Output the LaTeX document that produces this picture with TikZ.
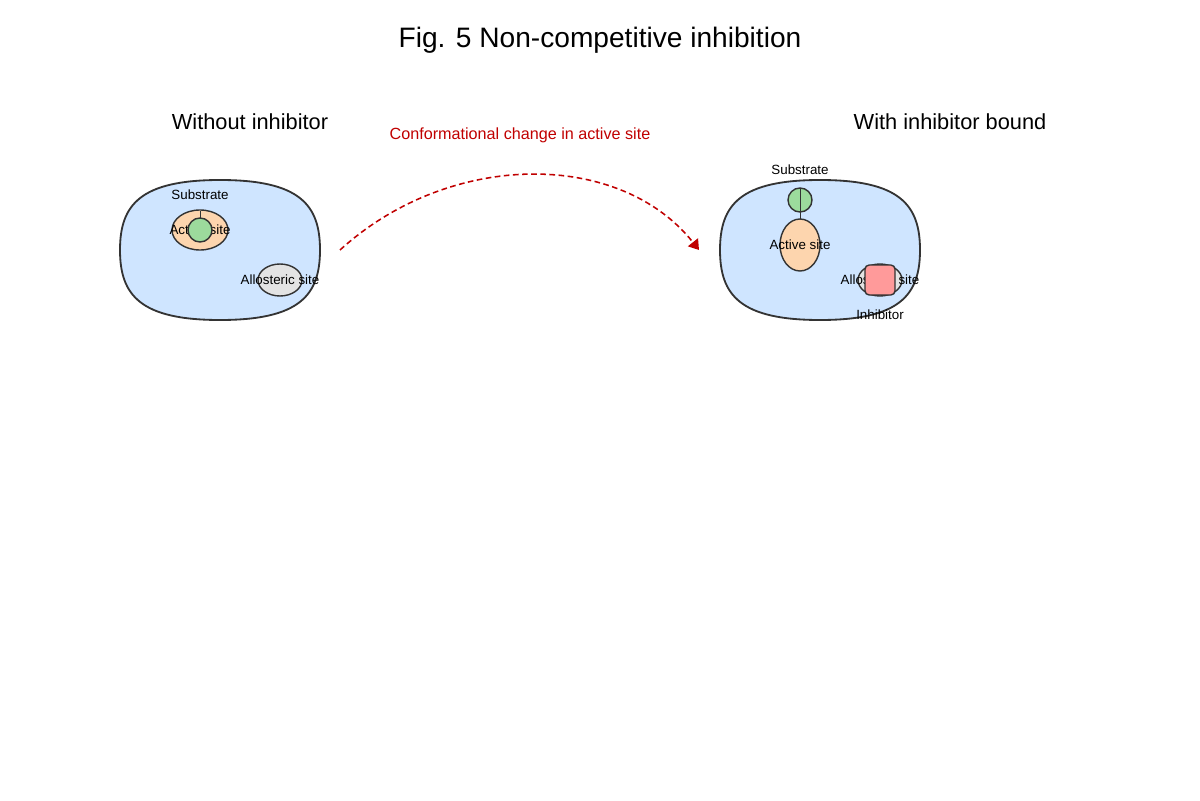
\documentclass[tikz,border=0pt]{standalone}
\usepackage{fontspec}
\setmainfont{Liberation Sans}
\usetikzlibrary{arrows.meta}
\definecolor{enzblue}{HTML}{CFE5FF}
\definecolor{sitepeach}{HTML}{FDD5AE}
\definecolor{subgreen}{HTML}{9CDB9C}
\definecolor{alloGray}{HTML}{E3E3E3}
\definecolor{inhred}{HTML}{FF9A9A}
\definecolor{arrowred}{HTML}{C00000}
\definecolor{edge}{HTML}{333333}
\begin{document}
\begin{tikzpicture}[x=0.025cm, y=-0.025cm,
    enzyme/.style={draw=edge, line width=1.3pt, fill=enzblue},
    part/.style={draw=edge, line width=1pt},
    lbl/.style={font=\fontsize{9.5}{11}\selectfont}]
  \useasboundingbox (0,0) rectangle (1200,800);

  % Titel
  \node (title) at (600,40) {\fontsize{20}{24}\selectfont Fig. 5 Non-competitive inhibition};
  \node (leftT) at (250,122) {\fontsize{15.5}{18}\selectfont Without inhibitor};
  \node (rightT) at (950,122) {\fontsize{15.5}{18}\selectfont With inhibitor bound};

  % Enzymkoerper
  \foreach \ox in {0,600}
    \draw[enzyme, xshift=\ox*0.025cm]
      (220,180) .. controls (300,180) and (320,205) .. (320,250)
      .. controls (320,295) and (300,320) .. (220,320)
      .. controls (140,320) and (120,295) .. (120,250)
      .. controls (120,205) and (140,180) .. cycle;

  % ohne Inhibitor
  \draw[part, fill=sitepeach] (200,230) ellipse [x radius=28, y radius=20];
  \node[lbl] (activeL) at (200,230) {Active site};
  \draw[part, fill=alloGray] (280,280) ellipse [x radius=22, y radius=16];
  \node[lbl] (alloL) at (280,280) {Allosteric site};
  \node[lbl] (subL) at (200,195) {Substrate};
  \draw[edge, thin] (200,211) -- (200,218);
  \draw[part, fill=subgreen] (200,230) circle [radius=12];

  % mit Inhibitor
  \draw[part, fill=sitepeach] (800,245) ellipse [x radius=20, y radius=26];
  \node[lbl] (activeR) at (800,245) {Active site};
  \draw[part, fill=subgreen] (800,200) circle [radius=12];
  \draw[edge, thin] (800,188) -- (800,219);
  \node[lbl] (subR) at (800,170) {Substrate};
  \draw[part, fill=alloGray] (880,280) ellipse [x radius=22, y radius=16];
  \node[lbl] (alloR) at (880,280) {Allosteric site};
  \draw[part, fill=inhred, rounded corners=3] (865,265) rectangle (895,295);
  \node[lbl] (inhib) at (880,315) {Inhibitor};

  % Konformationsaenderung
  \coordinate (from) at (340,250);
  \coordinate (to) at (699,250);
  \draw[arrowred, dash pattern=on 4pt off 2.5pt, line width=1.1pt, -{Triangle[length=7pt,width=9pt]}]
    (from) .. controls (450,150) and (620,150) .. (to);
  \node[text=arrowred, font=\fontsize{11.5}{14}\selectfont] (change) at (520,135) {Conformational change in active site};
\end{tikzpicture}
\end{document}
